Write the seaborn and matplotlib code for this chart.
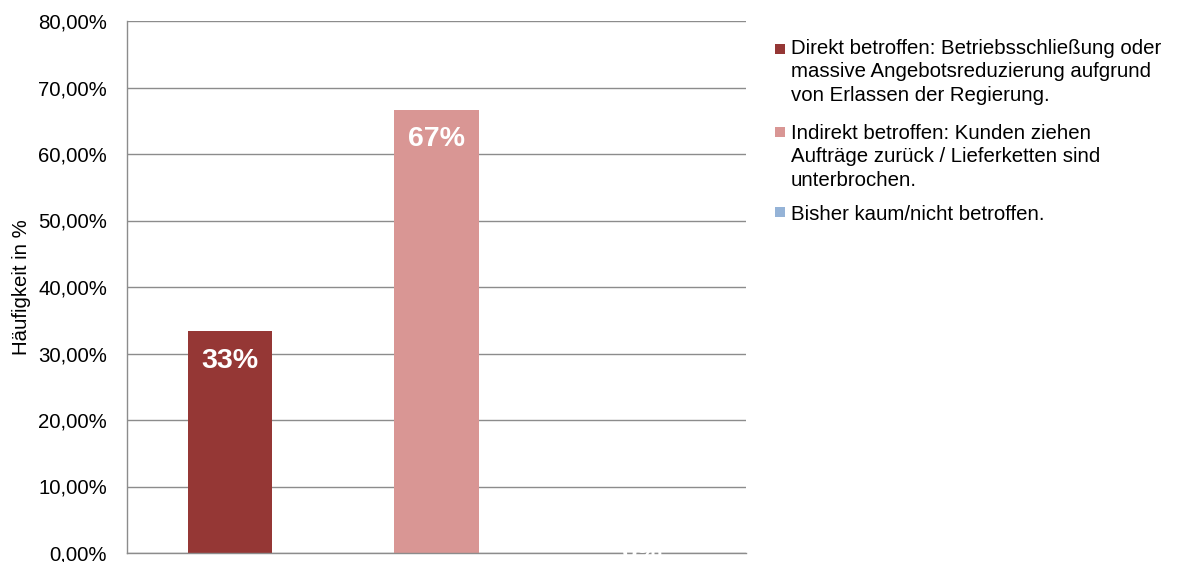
import matplotlib.pyplot as plt
import seaborn as sns
from matplotlib.patches import Rectangle

# data
categories = [
    'Direkt betroffen: Betriebsschließung oder\nmassive Angebotsreduzierung aufgrund\nvon Erlassen der Regierung.',
    'Indirekt betroffen: Kunden ziehen\nAufträge zurück / Lieferketten sind\nunterbrochen.',
    'Bisher kaum/nicht betroffen.',
]
values = [33.33, 66.67, 0.0]
bar_labels = ['33%', '67%', '0%']
colors = ['#953735', '#D99694', '#95B3D7']
y_ticks = [0, 10, 20, 30, 40, 50, 60, 70, 80]

W, H = 1177, 562
grid_col = '#8C8C8C'

sns.set_style('white')
plt.rcParams['font.family'] = ['Liberation Sans', 'DejaVu Sans']
plt.rcParams['text.color'] = 'black'
plt.rcParams['axes.labelcolor'] = 'black'
plt.rcParams['ytick.labelcolor'] = 'black'

fig = plt.figure(figsize=(W / 100, H / 100), dpi=100)
ax = fig.add_axes([127 / W, 9 / H, 619 / W, 532 / H])

sns.barplot(x=categories, y=values, hue=categories, palette=colors,
            width=0.41, legend=False, ax=ax, saturation=1, linewidth=0)

ax.set_xlim(-0.5, 2.5)
ax.set_ylim(0, 80)
ax.set_yticks(y_ticks)
ax.set_yticklabels([f"{t:.2f}".replace('.', ',') + '%' for t in y_ticks], fontsize=14.7)
ax.tick_params(axis='y', length=4.3, width=1, color=grid_col, pad=10, labelcolor='black')

# category boundaries as ticks, no category text
ax.set_xticks([-0.5, 0.5, 1.5, 2.5])
ax.set_xticklabels([])
ax.tick_params(axis='x', length=4.3, width=1, color=grid_col)

ax.yaxis.grid(True, color=grid_col, linewidth=1)
ax.set_axisbelow(True)
for side in ['top', 'right']:
    ax.spines[side].set_visible(False)
for side in ['left', 'bottom']:
    ax.spines[side].set_color(grid_col)
    ax.spines[side].set_linewidth(1)

ax.set_xlabel('')
ax.set_ylabel('Häufigkeit in %', fontsize=14.7)
ax.yaxis.set_label_coords(-0.155, 0.5)

# value labels inside the bar tops
for i, (v, lab) in enumerate(zip(values, bar_labels)):
    off = -21 if v > 0 else 0
    ax.annotate(lab, xy=(i, v), xytext=(0, off), textcoords='offset points',
                ha='center', va='center', color='white', fontweight='bold',
                fontsize=20.5, zorder=5)

# legend, drawn by hand so the marker sits on the first line
entry_tops = [39, 124, 205]
square_tops = [44, 127, 207]
for lab, col, top, sq in zip(categories, colors, entry_tops, square_tops):
    fig.add_artist(Rectangle((775 / W, 1 - (sq + 10) / H), 10 / W, 10 / H,
                             transform=fig.transFigure, color=col, linewidth=0))
    fig.text(791 / W, 1 - top / H, lab, va='top', ha='left',
             fontsize=14.7, linespacing=1.29)

plt.savefig('out.png', dpi=100)
